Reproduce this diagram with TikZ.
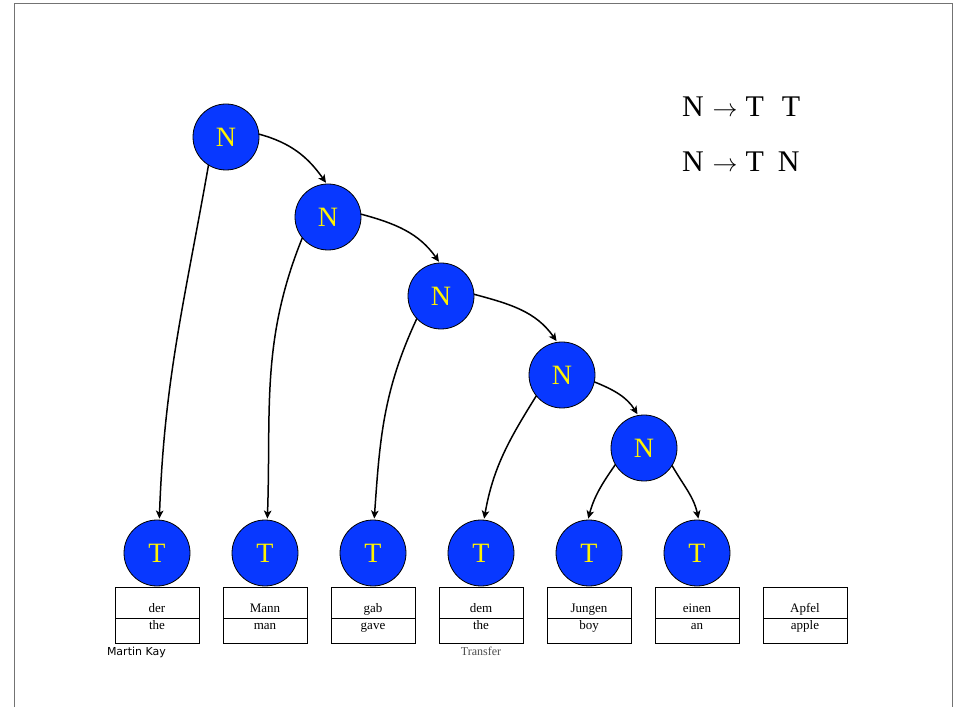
\documentclass[tikz,border=0pt]{standalone}
\usepackage{fontspec}
\setmainfont{Liberation Serif}
\newfontfamily\kayfont{DejaVu Sans}
\usetikzlibrary{arrows.meta,positioning}
\definecolor{symblue}{RGB}{8,56,255}
\definecolor{framegray}{gray}{0.45}

\begin{document}
\begin{tikzpicture}[x=1pt,y=1pt,>={Stealth[length=8pt,width=7.5pt,inset=2pt]},node distance=42pt,
	every node/.style={outer sep=0pt},
	sym/.style={circle,draw=black,line width=0.8pt,fill=symblue,text=yellow,minimum size=66pt,inner sep=0pt,font=\fontsize{28}{28}\selectfont},
	word/.style={draw,line width=0.9pt,minimum width=84pt,minimum height=31pt,text height=19pt,text depth=0pt,font=\fontsize{13}{13}\selectfont},
	gloss/.style={draw,line width=0.9pt,minimum width=84pt,minimum height=25pt,text height=5pt,text depth=8pt,font=\fontsize{13}{13}\selectfont},
	rule/.style={anchor=base west,inner sep=0pt,font=\fontsize{30}{30}\selectfont},
	link/.style={->,line width=1.5pt,shorten >=1.5pt}]
	\useasboundingbox (0,0) rectangle (963,707);
	\draw[framegray,line width=1pt] (14,0) -- (14,703) -- (952,703) -- (952,0);

	\node[sym] (n1) at (226,570) {N};
	\node[sym] (n2) at (328,490) {N};
	\node[sym] (n3) at (441,411) {N};
	\node[sym] (n4) at (562,332) {N};
	\node[sym] (n5) at (644,259) {N};

	\node[sym] (t1) at (157,154) {T};
	\node[sym] (t2) [right=of t1] {T};
	\node[sym] (t3) [right=of t2] {T};
	\node[sym] (t4) [right=of t3] {T};
	\node[sym] (t5) [right=of t4] {T};
	\node[sym] (t6) [right=of t5] {T};

	\node[word] (w1) [below=1pt of t1] {der};
	\node[gloss] (g1) [below=0pt of w1] {the};
	\node[word] (w2) [below=1pt of t2] {Mann};
	\node[gloss] (g2) [below=0pt of w2] {man};
	\node[word] (w3) [below=1pt of t3] {gab};
	\node[gloss] (g3) [below=0pt of w3] {gave};
	\node[word] (w4) [below=1pt of t4] {dem};
	\node[gloss] (g4) [below=0pt of w4] {the};
	\node[word] (w5) [below=1pt of t5] {Jungen};
	\node[gloss] (g5) [below=0pt of w5] {boy};
	\node[word] (w6) [below=1pt of t6] {einen};
	\node[gloss] (g6) [below=0pt of w6] {an};
	\node[word] (w7) [right=24pt of w6] {Apfel};
	\node[gloss] (g7) [below=0pt of w7] {apple};

	\node[anchor=west,inner sep=0pt,font=\kayfont\fontsize{11}{11}\selectfont] (kay) at (107,55) {Martin Kay};
	\node[text=black!70,inner sep=0pt,font=\fontsize{12}{12}\selectfont] (tr) [below=4pt of g4] {Transfer};

	\node[rule] (r1) at (682,590) {N\hspace{9pt}$\rightarrow$\hspace{8pt}T\hspace{18pt}T};
	\node[rule] (r2) at (682,535) {N\hspace{9pt}$\rightarrow$\hspace{8pt}T\hspace{14pt}N};

	\path[link]
	(n1.5) edge [out=-15,in=125] (n2.92)
	(n2.5) edge [out=-15,in=125] (n3.92)
	(n3.3) edge [out=-15,in=125] (n4.98)
	(n4.-12) edge [out=-22,in=122] (n5.100)

	(n1.-122) edge [out=-100,in=88] (t1.86)
	(n2.-141) edge [out=-112,in=88] (t2.86)
	(n3.-137) edge [out=-115,in=86] (t3.88)
	(n4.-141) edge [out=-122,in=80] (t4.85)
	(n5.-150) edge [out=-125,in=75] (t5.92)
	(n5.-32) edge [out=-60,in=102] (t6.87)
	;
\end{tikzpicture}
\end{document}
